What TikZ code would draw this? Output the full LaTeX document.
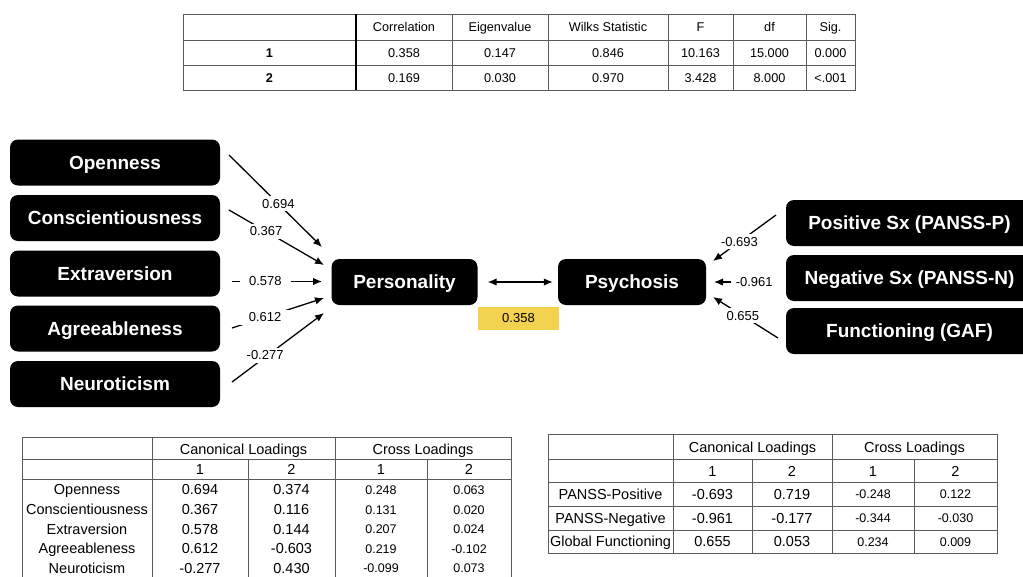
\documentclass[tikz,border=0pt]{standalone}
\usepackage{fontspec}
\setmainfont{Liberation Sans}
\usetikzlibrary{arrows.meta}
\definecolor{hl}{RGB}{243,210,80}
\definecolor{tline}{RGB}{90,90,90}
\begin{document}
\begin{tikzpicture}[x=1pt,y=-1pt,
  blk/.style={fill=black, rounded corners=8pt, text=white, inner sep=0pt,
    font=\fontsize{19}{22}\selectfont\bfseries, text height=13.6pt, text depth=0pt,
    minimum height=46pt},
  lab/.style={fill=white, inner sep=3pt, font=\fontsize{13}{15}\selectfont},
  tip/.tip={Latex[length=9pt,width=7.5pt]},
  arr/.style={-tip, line width=1.3pt},
  darr/.style={tip-tip, line width=1.3pt},
  cellA/.style={inner sep=0pt, font=\fontsize{12.7}{14}\selectfont, text height=9.1pt, text depth=0pt},
  cellB/.style={inner sep=0pt, font=\fontsize{14.5}{16}\selectfont, text height=10.4pt, text depth=0pt},
  cellC/.style={inner sep=0pt, font=\fontsize{12.5}{14}\selectfont, text height=9pt, text depth=0pt},
  tl/.style={draw=tline, line width=0.8pt},
]
\useasboundingbox (0,0) rectangle (1023,576);

% ---------- top table ----------
\draw[tl] (183,14) rectangle (855,90);
\draw[tl] (183,40) -- (855,40);
\draw[tl] (183,65) -- (855,65);
\foreach \x in {452,548,668,733,806} \draw[tl] (\x,14) -- (\x,90);
\draw[line width=1.3pt] (356,14) -- (356,90);
\foreach \x/\t [count=\i] in {404/Correlation,500/Eigenvalue,608/Wilks Statistic,700.5/F,769.5/df,830.5/Sig.}
  \node[cellA] (th\i) at (\x,27) {\t};
\node[cellA, font=\fontsize{12.7}{14}\selectfont\bfseries] (tr1) at (269.5,52.5) {1};
\node[cellA, font=\fontsize{12.7}{14}\selectfont\bfseries] (tr2) at (269.5,77.5) {2};
\foreach \x/\t [count=\i] in {404/0.358,500/0.147,608/0.846,700.5/10.163,769.5/15.000,830.5/0.000}
  \node[cellA] (ta\i) at (\x,52.5) {\t};
\foreach \x/\t [count=\i] in {404/0.169,500/0.030,608/0.970,700.5/3.428,769.5/8.000,830.5/<.001}
  \node[cellA] (tb\i) at (\x,77.5) {\t};

% ---------- left boxes ----------
\node[blk, minimum width=210pt] (open)  at (115,162.5) {Openness};
\node[blk, minimum width=210pt] (consc) at (115,218)   {Conscientiousness};
\node[blk, minimum width=210pt] (extra) at (115,273.5) {Extraversion};
\node[blk, minimum width=210pt] (agree) at (115,328.5) {Agreeableness};
\node[blk, minimum width=210pt] (neuro) at (115,384)   {Neuroticism};

% ---------- central ----------
\node[blk, minimum width=146pt] (pers) at (404.5,282) {Personality};
\node[blk, minimum width=148pt] (psy)  at (632,282)   {Psychosis};
\node[fill=hl, minimum width=81pt, minimum height=23pt, inner sep=0pt,
      font=\fontsize{13}{15}\selectfont] (corr) at (518.5,318) {0.358};
\draw[darr] ([xshift=10pt]pers.east) -- ([xshift=-5pt]psy.west);

% ---------- right boxes ----------
\node[blk, minimum width=247pt] (pos) at (909.5,223)   {Positive Sx (PANSS-P)};
\node[blk, minimum width=247pt] (neg) at (909.5,278)   {Negative Sx (PANSS-N)};
\node[blk, minimum width=247pt] (fun) at (909.5,331)   {Functioning (GAF)};

% ---------- left arrows ----------
\coordinate (oS) at (229,155);  \coordinate (oE) at (322,247);
\coordinate (cS) at (229,210);  \coordinate (cE) at (324,265);
\coordinate (eS) at (232,281.5);\coordinate (eE) at (322,281.5);
\coordinate (aS) at (232,328);  \coordinate (aE) at (324,298);
\coordinate (nS) at (232,382);  \coordinate (nE) at (324,313);
\draw[arr] (oS) -- node[lab, pos=0.53] (lo) {0.694} (oE);
\draw[arr] (cS) -- node[lab, pos=0.39] (lc) {0.367} (cE);
\draw[arr] (eS) -- node[lab, pos=0.37, inner xsep=9pt] (le) {0.578} (eE);
\draw[arr] (aS) -- node[lab, pos=0.36, inner xsep=9pt] (la) {0.612} (aE);
\draw[arr] (nS) -- node[lab, pos=0.36, yshift=2pt] (ln) {-0.277} (nE);

% ---------- right arrows ----------
\coordinate (pS) at (776,215);  \coordinate (pE) at (713,261);
\coordinate (gS) at (774,282);  \coordinate (gE) at (714,282);
\coordinate (fS) at (778,338);  \coordinate (fE) at (713,297);
\draw[arr] (pS) -- node[lab, pos=0.58] (lp) {-0.693} (pE);
\draw[arr] (gS) -- node[lab, pos=0.33, inner xsep=5pt] (lg) {-0.961} (gE);
\draw[arr] (fS) -- node[lab, pos=0.54] (lf) {0.655} (fE);

% ---------- bottom-left table ----------
\draw[tl] (22,580) -- (22,437) -- (511,437) -- (511,580);
\draw[tl] (22,459) -- (511,459);
\draw[tl] (22,479) -- (511,479);
\foreach \x in {152,335} \draw[tl] (\x,437) -- (\x,580);
\foreach \x in {248,427} \draw[tl] (\x,459) -- (\x,580);
\node[cellB] (lh1) at (243.5,449) {Canonical Loadings};
\node[cellB] (lh2) at (423,449) {Cross Loadings};
\foreach \x/\t [count=\i] in {200/1,291.5/2,381/1,469/2}
  \node[cellB] (ls\i) at (\x,469.5) {\t};
\foreach \y/\n/\a/\b/\c/\d [count=\r] in {
   489.5/Openness/0.694/0.374/0.248/0.063,
   509.5/Conscientiousness/0.367/0.116/0.131/0.020,
   529/Extraversion/0.578/0.144/0.207/0.024,
   548.5/Agreeableness/0.612/-0.603/0.219/-0.102,
   568/Neuroticism/-0.277/0.430/-0.099/0.073}{
  \node[cellB] (L\r n) at (87,\y) {\n};
  \node[cellB] (L\r a) at (200,\y) {\a};
  \node[cellB] (L\r b) at (291.5,\y) {\b};
  \node[cellC] (L\r c) at (381,\y) {\c};
  \node[cellC] (L\r d) at (469,\y) {\d};
}

% ---------- bottom-right table ----------
\draw[tl] (548,434) rectangle (997,553);
\foreach \y in {459,482,506,530} \draw[tl] (548,\y) -- (997,\y);
\foreach \x in {673,832} \draw[tl] (\x,434) -- (\x,553);
\foreach \x in {752,914} \draw[tl] (\x,459) -- (\x,553);
\node[cellB] (rh1) at (752.5,447) {Canonical Loadings};
\node[cellB] (rh2) at (914.5,447) {Cross Loadings};
\foreach \x/\t [count=\i] in {712.5/1,792/2,873/1,955.5/2}
  \node[cellB] (rs\i) at (\x,471) {\t};
\foreach \y/\n/\a/\b/\c/\d [count=\r] in {
   494/PANSS-Positive/-0.693/0.719/-0.248/0.122,
   518/PANSS-Negative/-0.961/-0.177/-0.344/-0.030,
   541.5/Global Functioning/0.655/0.053/0.234/0.009}{
  \node[cellB] (R\r n) at (610.5,\y) {\n};
  \node[cellB] (R\r a) at (712.5,\y) {\a};
  \node[cellB] (R\r b) at (792,\y) {\b};
  \node[cellC] (R\r c) at (873,\y) {\c};
  \node[cellC] (R\r d) at (955.5,\y) {\d};
}
\end{tikzpicture}
\end{document}
